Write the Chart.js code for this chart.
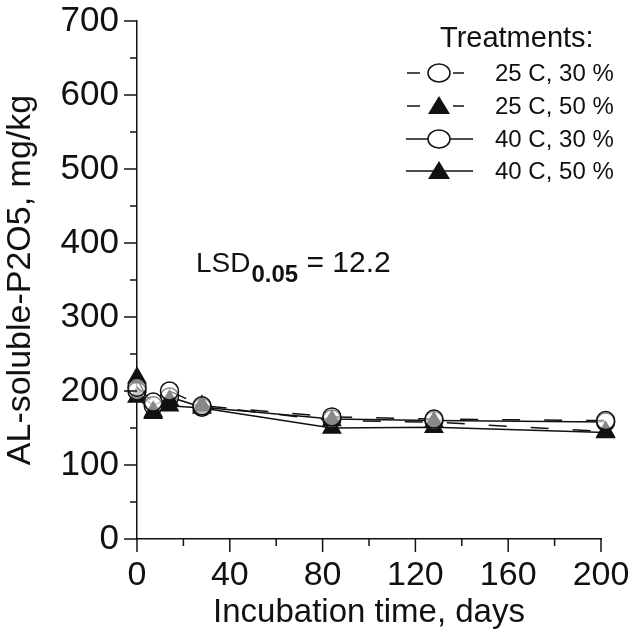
<!DOCTYPE html>
<html>
<head>
<meta charset="utf-8">
<script src="https://cdn.jsdelivr.net/npm/chart.js@4.4.1/dist/chart.umd.min.js"></script>
<style>
  html, body { margin: 0; padding: 0; background: #fff; }
  #wrap { position: relative; width: 637px; height: 633px; }
</style>
</head>
<body>
<div id="wrap"><canvas id="c" width="637" height="633"></canvas></div>
<script>
const days = [0, 7, 14, 28, 84, 128, 202];
const s25c30 = [205, 185, 200, 180, 165, 162, 160];
const s25c50 = [218, 172, 187, 180, 160, 158, 145];
const s40c30 = [200, 180, 192, 178, 162, 160, 158];
const s40c50 = [192, 170, 180, 177, 150, 151, 144];
const seriesLabels = ['25 C, 30 %', '25 C, 50 %', '40 C, 30 %', '40 C, 50 %'];
const yTicks = [0, 100, 200, 300, 400, 500, 600, 700];
const xTicks = [0, 40, 80, 120, 160, 200];
const legendTitle = 'Treatments:';
const lsdValue = '12.2';

const FONT = '"Liberation Sans", Arial, sans-serif';
const INK = '#111';

function pts(vals) { return days.map((d, i) => ({ x: d, y: vals[i] })); }

const styles = [
  { style: 'circle', dash: [18, 24] },
  { style: 'triangle', dash: [18, 24] },
  { style: 'circle', dash: [] },
  { style: 'triangle', dash: [] }
];
const allVals = [s25c30, s25c50, s40c30, s40c50];

const datasets = allVals.map((v, i) => ({
  label: seriesLabels[i],
  data: pts(v),
  borderColor: INK,
  borderWidth: 1.5,
  borderDash: styles[i].dash,
  backgroundColor: styles[i].style === 'circle' ? '#fff' : INK,
  pointStyle: styles[i].style,
  pointRadius: styles[i].style === 'circle' ? 9 : 10,
  pointBorderWidth: 1.5,
  pointBorderColor: INK,
  pointBackgroundColor: styles[i].style === 'circle' ? 'rgba(255,255,255,0.5)' : INK,
  tension: 0,
  fill: false,
  clip: false
}));

const decor = {
  id: 'decor',
  afterDraw(chart) {
    const ctx = chart.ctx;
    const xs = chart.scales.x, ys = chart.scales.y;
    ctx.save();
    ctx.strokeStyle = INK;
    ctx.lineWidth = 1.5;
    // y ticks
    for (let v = 0; v <= 700; v += 50) {
      const y = ys.getPixelForValue(v);
      const len = v % 100 === 0 ? 13 : 7;
      ctx.beginPath();
      ctx.moveTo(xs.left - len, y);
      ctx.lineTo(xs.left, y);
      ctx.stroke();
    }
    // x ticks
    for (let v = 0; v <= 200; v += 20) {
      const x = xs.getPixelForValue(v);
      const len = v % 40 === 0 ? 13 : 7;
      ctx.beginPath();
      ctx.moveTo(x, ys.bottom);
      ctx.lineTo(x, ys.bottom + len);
      ctx.stroke();
    }
    // LSD annotation
    ctx.fillStyle = INK;
    ctx.textBaseline = 'alphabetic';
    ctx.textAlign = 'left';
    ctx.font = '28px ' + FONT;
    let x0 = 196, base = 272;
    ctx.fillText('LSD', x0, base);
    let w = ctx.measureText('LSD').width;
    ctx.font = 'bold 24px ' + FONT;
    ctx.fillText('0.05', x0 + w + 1, base + 10);
    let w2 = ctx.measureText('0.05').width;
    ctx.font = '30px ' + FONT;
    ctx.fillText(' = ' + lsdValue, x0 + w + w2 + 1, base);

    // Legend
    ctx.font = '29px ' + FONT;
    ctx.textAlign = 'left';
    ctx.textBaseline = 'middle';
    ctx.fillText(legendTitle, 440, 39);
    ctx.font = '24px ' + FONT;
    const rows = [73, 106, 139, 171];
    rows.forEach((y, i) => {
      const st = styles[i];
      ctx.lineWidth = 1.5;
      ctx.strokeStyle = INK;
      ctx.setLineDash([]);
      if (st.dash.length) {
        ctx.beginPath(); ctx.moveTo(407, y); ctx.lineTo(420, y); ctx.stroke();
        ctx.beginPath(); ctx.moveTo(453, y); ctx.lineTo(464, y); ctx.stroke();
      } else {
        ctx.beginPath(); ctx.moveTo(406, y); ctx.lineTo(473, y); ctx.stroke();
      }
      if (st.style === 'circle') {
        ctx.beginPath();
        ctx.ellipse(439, y, 11, 9, 0, 0, Math.PI * 2);
        ctx.fillStyle = '#fff';
        ctx.fill();
        ctx.stroke();
      } else {
        ctx.beginPath();
        ctx.moveTo(439, y - 10);
        ctx.lineTo(450, y + 8);
        ctx.lineTo(428, y + 8);
        ctx.closePath();
        ctx.fillStyle = INK;
        ctx.fill();
      }
      ctx.fillStyle = INK;
      ctx.fillText(seriesLabels[i], 495, y + 1);
    });
    ctx.restore();
  }
};

new Chart(document.getElementById('c'), {
  type: 'line',
  data: { datasets },
  options: {
    responsive: false,
    animation: false,
    layout: { padding: { top: 21, right: 36, left: 0, bottom: 0 } },
    plugins: { legend: { display: false }, tooltip: { enabled: false } },
    scales: {
      x: {
        type: 'linear',
        min: 0, max: 200,
        afterBuildTicks: (s) => { s.ticks = xTicks.map(v => ({ value: v })); },
        afterFit: (s) => { s.height = 94; s.paddingLeft = 0; s.paddingRight = 0; },
        grid: { display: false, drawTicks: false },
        border: { display: true, color: INK, width: 1.5 },
        ticks: { color: INK, font: { family: FONT, size: 34 }, padding: 16, maxRotation: 0, autoSkip: false },
        title: { display: true, text: 'Incubation time, days', color: INK, font: { family: FONT, size: 33 }, padding: { top: 0, bottom: 0 } }
      },
      y: {
        type: 'linear',
        min: 0, max: 700,
        afterBuildTicks: (s) => { s.ticks = yTicks.map(v => ({ value: v })); },
        afterFit: (s) => { s.width = 137; s.paddingTop = 0; s.paddingBottom = 0; },
        grid: { display: false, drawTicks: false },
        border: { display: true, color: INK, width: 1.5 },
        ticks: { color: INK, font: { family: FONT, size: 35 }, padding: 18 },
        title: { display: true, text: 'AL-soluble-P2O5, mg/kg', color: INK, font: { family: FONT, size: 34 }, padding: { top: 0, bottom: 4 } }
      }
    }
  },
  plugins: [decor]
});
</script>
</body>
</html>
